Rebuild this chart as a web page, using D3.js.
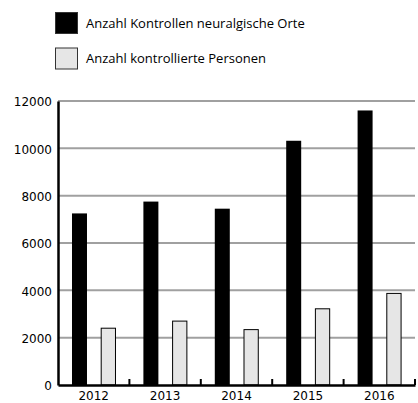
<!DOCTYPE html>
<html lang="de">
<head>
    <meta charset="UTF-8">
    <title>Kontrollen</title>
    <style>
        body { margin: 0; background: #fff; }
        .legend text { font-family: "Open Sans", sans-serif; font-size: 13px; }
        .tick text { font-family: "DejaVu Sans", sans-serif; font-size: 12px; fill: #000; }
    </style>
</head>
<script src="https://d3js.org/d3.v7.min.js"></script>
<body>
<script>
    var years = ["2012", "2013", "2014", "2015", "2016"];
    var kontrollen = [7250, 7750, 7450, 10320, 11600];
    var personen = [2400, 2700, 2340, 3220, 3870];
    var yTicks = [0, 2000, 4000, 6000, 8000, 10000, 12000];
    var seriesNames = ["Anzahl Kontrollen neuralgische Orte", "Anzahl kontrollierte Personen"];

    var plotLeft = 58, plotRight = 415, plotTop = 101, plotBottom = 385;

    var svg = d3.select("body")
        .append("svg")
        .attr("width", 418)
        .attr("height", 403);

    var xScale = d3.scaleBand().domain(years).range([plotLeft, plotRight]);
    var yScale = d3.scaleLinear().domain([0, 12000]).range([plotBottom, plotTop]);

    // gridlines
    svg.append("g")
        .selectAll("line")
        .data(yTicks.slice(1))
        .enter().append("line")
        .attr("x1", plotLeft)
        .attr("x2", plotRight)
        .attr("y1", function (d) { return yScale(d); })
        .attr("y2", function (d) { return yScale(d); })
        .attr("stroke", "#a0a0a0")
        .attr("stroke-width", 2);

    var bw = xScale.bandwidth();

    svg.append("g")
        .selectAll("rect")
        .data(years)
        .enter().append("rect")
        .attr("x", function (d) { return xScale(d) + bw * 0.196; })
        .attr("y", function (d, i) { return yScale(kontrollen[i]); })
        .attr("width", bw * 0.21)
        .attr("height", function (d, i) { return plotBottom - yScale(kontrollen[i]); })
        .attr("fill", "#000");

    svg.append("g")
        .selectAll("rect")
        .data(years)
        .enter().append("rect")
        .attr("x", function (d) { return xScale(d) + bw * 0.605; })
        .attr("y", function (d, i) { return yScale(personen[i]); })
        .attr("width", bw * 0.2)
        .attr("height", function (d, i) { return plotBottom - yScale(personen[i]); })
        .attr("fill", "#e6e6e6")
        .attr("stroke", "#000")
        .attr("stroke-width", 1);

    // y axis
    var yAxis = svg.append("g")
        .attr("transform", "translate(" + plotLeft + ",0)")
        .call(d3.axisLeft(yScale).tickValues(yTicks).tickSize(0).tickPadding(6).tickFormat(d3.format("d")));
    yAxis.select(".domain").attr("stroke", "#000").attr("stroke-width", 2.5);
    yAxis.selectAll(".tick text").attr("dy", "0.4em");

    // x axis, ticks on band boundaries pointing up
    var xAxis = svg.append("g")
        .attr("transform", "translate(0," + plotBottom + ")")
        .call(d3.axisBottom(xScale).tickSize(0).tickPadding(8));
    xAxis.select(".domain").attr("stroke", "#000").attr("stroke-width", 2.5);
    xAxis.selectAll(".tick text").attr("dy", "0.6em");
    xAxis.selectAll(".sep")
        .data(years)
        .enter().append("line")
        .attr("class", "sep")
        .attr("x1", function (d) { return xScale(d) + bw; })
        .attr("x2", function (d) { return xScale(d) + bw; })
        .attr("y1", 0)
        .attr("y2", -6)
        .attr("stroke", "#000")
        .attr("stroke-width", 2);

    // legend
    var legend = svg.append("g").attr("class", "legend");
    var lg = legend.selectAll("g")
        .data(seriesNames)
        .enter().append("g")
        .attr("transform", function (d, i) { return "translate(55," + (12 + i * 35.5) + ")"; });
    lg.append("rect")
        .attr("x", 0.5)
        .attr("y", 0.5)
        .attr("width", 22)
        .attr("height", 21)
        .attr("fill", function (d, i) { return i === 0 ? "#000" : "#e6e6e6"; })
        .attr("stroke", "#333")
        .attr("stroke-width", 1);
    lg.append("text")
        .attr("x", 31)
        .attr("y", 11)
        .attr("dy", "0.35em")
        .text(function (d) { return d; });
</script>
</body>
</html>
